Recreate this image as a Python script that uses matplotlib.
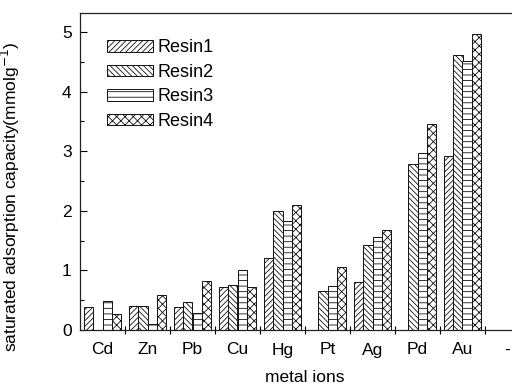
import numpy as np
import matplotlib
matplotlib.use("Agg")
from matplotlib import pyplot as plt
from matplotlib.ticker import MultipleLocator

plt.rcParams["font.family"] = ["Liberation Sans", "DejaVu Sans"]
plt.rcParams["hatch.linewidth"] = 0.6

metals = ["Cd", "Zn", "Pb", "Cu", "Hg", "Pt", "Ag", "Pd", "Au", "-"]
resin1 = [0.38, 0.40, 0.39, 0.73, 1.20, np.nan, 0.80, np.nan, 2.92, np.nan]
resin2 = [np.nan, 0.40, 0.47, 0.76, 1.99, 0.66, 1.43, 2.79, 4.62, np.nan]
resin3 = [0.49, 0.10, 0.28, 1.00, 1.83, 0.74, 1.56, 2.97, 4.51, np.nan]
resin4 = [0.27, 0.59, 0.82, 0.73, 2.10, 1.05, 1.68, 3.46, 4.96, np.nan]
labels = ["Resin1", "Resin2", "Resin3", "Resin4"]
hatches = ["//////", "\\\\\\\\\\\\", "---", "xxxx"]

fig = plt.figure(figsize=(5.12, 3.87), dpi=100)
ax = fig.add_axes([80 / 512, 57 / 387, 450 / 512, 317 / 387])

x = np.arange(len(metals))
w = 0.205
for k, (vals, lab, h) in enumerate(zip([resin1, resin2, resin3, resin4], labels, hatches)):
    ax.bar(x + (k - 1.5) * w, vals, w, color="white", edgecolor="#111111",
           linewidth=0.7, hatch=h, label=lab)

ax.set_xlim(-0.5, len(metals) - 0.5)
ax.set_ylim(0, 5.32)

# category boundaries get the tick marks, names sit in between
ax.set_xticks(x[:-1] + 0.5)
ax.set_xticklabels([])
ax.set_xticks(x, minor=True)
ax.set_xticklabels(metals, minor=True, fontsize=12.5)
ax.tick_params(axis="x", which="major", direction="inout", length=6, width=0.8)
ax.tick_params(axis="x", which="minor", length=0, pad=9)

ax.yaxis.set_major_locator(MultipleLocator(1))
ax.yaxis.set_minor_locator(MultipleLocator(0.5))
ax.tick_params(axis="y", which="major", direction="in", length=5, width=0.8,
               labelsize=12.5, pad=6)
ax.tick_params(axis="y", which="minor", direction="in", length=3, width=0.8)

for s in ax.spines.values():
    s.set_linewidth(0.9)
    s.set_color("#222222")

ax.set_ylabel("saturated adsorption capacity(mmolg$^{-1}$)", fontsize=12.5)
ax.yaxis.set_label_coords(-0.128, 0.42)
ax.set_xlabel("metal ions", fontsize=12.5, labelpad=9)

ax.legend(loc="upper left", bbox_to_anchor=(0.045, 0.94), frameon=False,
          fontsize=13, handlelength=2.5, handleheight=0.6,
          labelspacing=0.42, handletextpad=0.25, borderaxespad=0)

fig.savefig("out.png", dpi=100)
